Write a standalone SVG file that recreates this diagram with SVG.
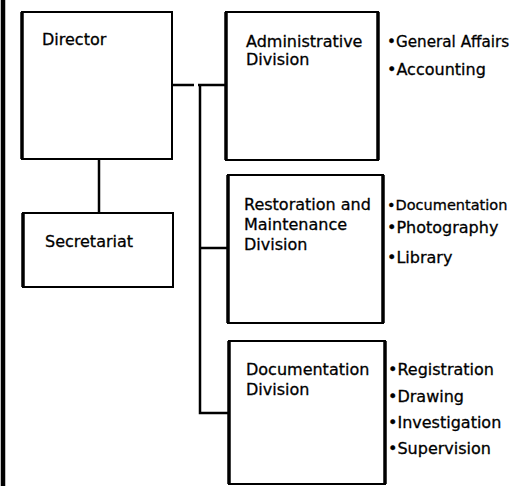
<svg xmlns="http://www.w3.org/2000/svg" width="515" height="486" viewBox="0 0 515 486">
<style>
.box{fill:#fff;stroke:#000;stroke-width:2}
.edge{stroke:#000;stroke-width:3.5;fill:none}
.t{font-family:"DejaVu Sans",sans-serif;font-size:16px;fill:#000;stroke:#000;stroke-width:0.3}
.c{stroke:#000;stroke-width:2.5;fill:none}
</style>
<rect width="515" height="486" fill="#fff"/>
<line x1="3" y1="0" x2="3" y2="486" stroke="#000" stroke-width="4.5"/>
<g id="connectors">
<line class="c" x1="99" y1="159" x2="99" y2="213" stroke-width="3"/>
<line class="c" x1="172" y1="85" x2="226" y2="85" stroke-dasharray="22,4,30"/>
<polyline class="c" points="200,85 200,413 229,413" stroke-width="3"/>
<line class="c" x1="200" y1="248" x2="228" y2="248"/>
</g>
<g id="director">
<rect class="box" x="22" y="12" width="150" height="147"/>
<line class="edge" x1="22" y1="12" x2="22" y2="159"/>
<text class="t" x="42" y="45">Director</text>
</g>
<g id="secretariat">
<rect class="box" x="23" y="213" width="150" height="74"/>
<line class="edge" x1="23" y1="213" x2="23" y2="287"/>
<text class="t" x="45" y="247">Secretariat</text>
</g>
<g id="administrative">
<rect class="box" x="226" y="12" width="152" height="148"/>
<line class="edge" x1="226" y1="12" x2="226" y2="160"/>
<line class="edge" x1="378" y1="12" x2="378" y2="160"/>
<text class="t" x="246" y="47">Administrative</text>
<text class="t" x="246" y="65">Division</text>
<text class="t" x="387" y="47" style="font-size:15.2px">•General Affairs</text>
<text class="t" x="387" y="75">•Accounting</text>
</g>
<g id="restoration">
<rect class="box" x="228" y="175" width="155" height="148"/>
<line class="edge" x1="228" y1="175" x2="228" y2="323"/>
<line class="edge" x1="383" y1="175" x2="383" y2="323"/>
<text class="t" x="244" y="210">Restoration and</text>
<text class="t" x="244" y="230">Maintenance</text>
<text class="t" x="244" y="250">Division</text>
<text class="t" x="387" y="210" style="font-size:14.5px">•Documentation</text>
<text class="t" x="387" y="233">•Photography</text>
<text class="t" x="387" y="263">•Library</text>
</g>
<g id="documentation">
<rect class="box" x="229" y="341" width="156" height="143"/>
<line class="edge" x1="229" y1="341" x2="229" y2="484"/>
<line class="edge" x1="385" y1="341" x2="385" y2="484"/>
<text class="t" x="246" y="375">Documentation</text>
<text class="t" x="246" y="395">Division</text>
<text class="t" x="388" y="375">•Registration</text>
<text class="t" x="388" y="402">•Drawing</text>
<text class="t" x="388" y="428">•Investigation</text>
<text class="t" x="388" y="454">•Supervision</text>
</g>
</svg>
